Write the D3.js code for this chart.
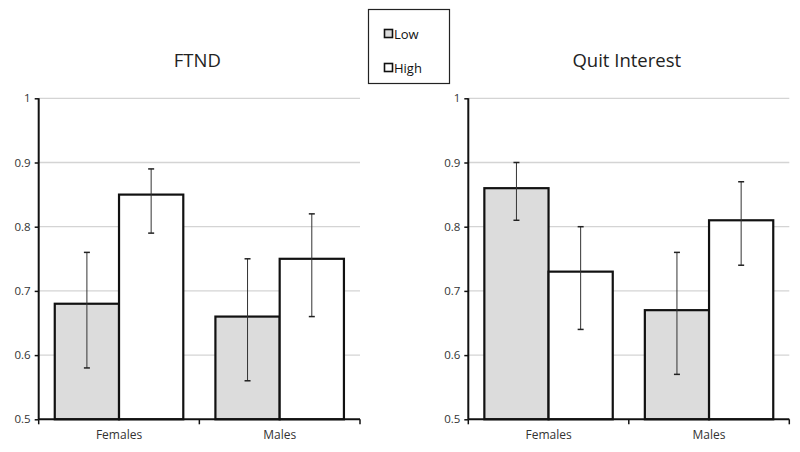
<!DOCTYPE html>
<html><head><meta charset="utf-8">
<script src="https://cdn.jsdelivr.net/npm/d3@7"></script>
<style>body{margin:0;background:#fff}svg{display:block}</style>
</head><body>
<svg id="c" width="800" height="452"></svg>
<script>
const categories = ["Females", "Males"];
const groups = ["Low", "High"];
const yTicks = [0.5, 0.6, 0.7, 0.8, 0.9, 1];
const yTickLabels = ["0.5", "0.6", "0.7", "0.8", "0.9", "1"];
const titles = ["FTND", "Quit Interest"];
// [Females, Males] for each group
const ftndLow = [0.68, 0.66];
const ftndHigh = [0.85, 0.75];
const ftndLowErr = [[0.58, 0.76], [0.56, 0.75]];
const ftndHighErr = [[0.79, 0.89], [0.66, 0.82]];
const quitLow = [0.86, 0.67];
const quitHigh = [0.73, 0.81];
const quitLowErr = [[0.81, 0.90], [0.57, 0.76]];
const quitHighErr = [[0.64, 0.80], [0.74, 0.87]];

const panels = [
  {title: titles[0], low: ftndLow, high: ftndHigh, lowErr: ftndLowErr, highErr: ftndHighErr, x0: 38.7, x1: 360},
  {title: titles[1], low: quitLow, high: quitHigh, lowErr: quitLowErr, highErr: quitHighErr, x0: 468.3, x1: 789.3}
];
const fills = {Low: "#dcdcdc", High: "#ffffff"};
const font = "'Open Sans', 'Liberation Sans', sans-serif";
const svg = d3.select("#c");

const y = d3.scaleLinear().domain([0.5, 1]).range([419.3, 98.3]);

panels.forEach(p => {
  const g = svg.append("g");
  const x = d3.scaleBand().domain(categories).range([p.x0, p.x1]).paddingInner(0.2).paddingOuter(0.1);
  const xs = d3.scaleBand().domain(categories).range([p.x0, p.x1]);
  const xi = d3.scaleBand().domain(groups).range([0, x.bandwidth()]);
  // gridlines
  g.selectAll("line.grid").data(yTicks.slice(1)).join("line")
    .attr("x1", p.x0).attr("x2", p.x1)
    .attr("y1", d => y(d)).attr("y2", d => y(d))
    .attr("stroke", "#d4d4d4").attr("stroke-width", 1.3);
  // bars
  const rows = [];
  categories.forEach((c, i) => {
    rows.push({c, gname: "Low", v: p.low[i], e: p.lowErr[i]});
    rows.push({c, gname: "High", v: p.high[i], e: p.highErr[i]});
  });
  g.selectAll("rect.bar").data(rows).join("rect")
    .attr("x", d => x(d.c) + xi(d.gname))
    .attr("y", d => y(d.v))
    .attr("width", xi.bandwidth())
    .attr("height", d => y(0.5) - y(d.v))
    .attr("fill", d => fills[d.gname])
    .attr("stroke", "#111").attr("stroke-width", 2.2);
  // error bars
  const cx = d => x(d.c) + xi(d.gname) + xi.bandwidth() / 2;
  g.selectAll("line.err").data(rows).join("line")
    .attr("x1", cx).attr("x2", cx)
    .attr("y1", d => y(d.e[0])).attr("y2", d => y(d.e[1]))
    .attr("stroke", "#333").attr("stroke-width", 1);
  ["0", "1"].forEach(k => {
    g.selectAll("line.cap" + k).data(rows).join("line")
      .attr("x1", d => cx(d) - 3).attr("x2", d => cx(d) + 3)
      .attr("y1", d => y(d.e[k])).attr("y2", d => y(d.e[k]))
      .attr("stroke", "#222").attr("stroke-width", 1.5);
  });
  // y axis
  const ya = g.append("g").attr("transform", `translate(${p.x0},0)`)
    .call(d3.axisLeft(y).tickValues(yTicks).tickFormat((d, i) => yTickLabels[i]).tickSize(4).tickPadding(4));
  ya.select(".domain").attr("stroke", "#111").attr("stroke-width", 2).attr("d", `M0,${y(1)}V${y(0.5)}`);
  ya.selectAll(".tick line").attr("stroke", "#111").attr("stroke-width", 1.5);
  ya.selectAll("text").attr("font-family", font).attr("font-size", 11.5).attr("fill", "#333");
  // x axis
  const xa = g.append("g").attr("transform", `translate(0,${y(0.5)})`)
    .call(d3.axisBottom(xs).tickSize(0).tickPadding(11));
  xa.select(".domain").attr("stroke", "#111").attr("stroke-width", 2).attr("d", `M${p.x0},0H${p.x1}`);
  xa.selectAll("text").attr("font-family", font).attr("font-size", 12).attr("fill", "#333");
  g.selectAll("line.xt").data([p.x0, (p.x0 + p.x1) / 2, p.x1]).join("line")
    .attr("x1", d => d).attr("x2", d => d)
    .attr("y1", y(0.5)).attr("y2", y(0.5) + 5)
    .attr("stroke", "#111").attr("stroke-width", 1.5);
  // title
  g.append("text").attr("x", (p.x0 + p.x1) / 2 - 2).attr("y", 66.5)
    .attr("text-anchor", "middle").attr("font-family", font).attr("font-size", 18.5)
    .attr("fill", "#222").text(p.title);
});

// legend
const lg = svg.append("g");
lg.append("rect").attr("x", 368.5).attr("y", 9.5).attr("width", 81).attr("height", 74)
  .attr("fill", "#fff").attr("stroke", "#222").attr("stroke-width", 1.2);
groups.forEach((gname, i) => {
  const yy = 34 + i * 34;
  lg.append("rect").attr("x", 384.5).attr("y", yy - 4.5).attr("width", 8).attr("height", 8)
    .attr("fill", fills[gname]).attr("stroke", "#111").attr("stroke-width", 1.6);
  lg.append("text").attr("x", 394).attr("y", yy + 4.5).attr("font-family", font)
    .attr("font-size", 13).attr("fill", "#111").text(gname);
});
</script>
</body></html>
